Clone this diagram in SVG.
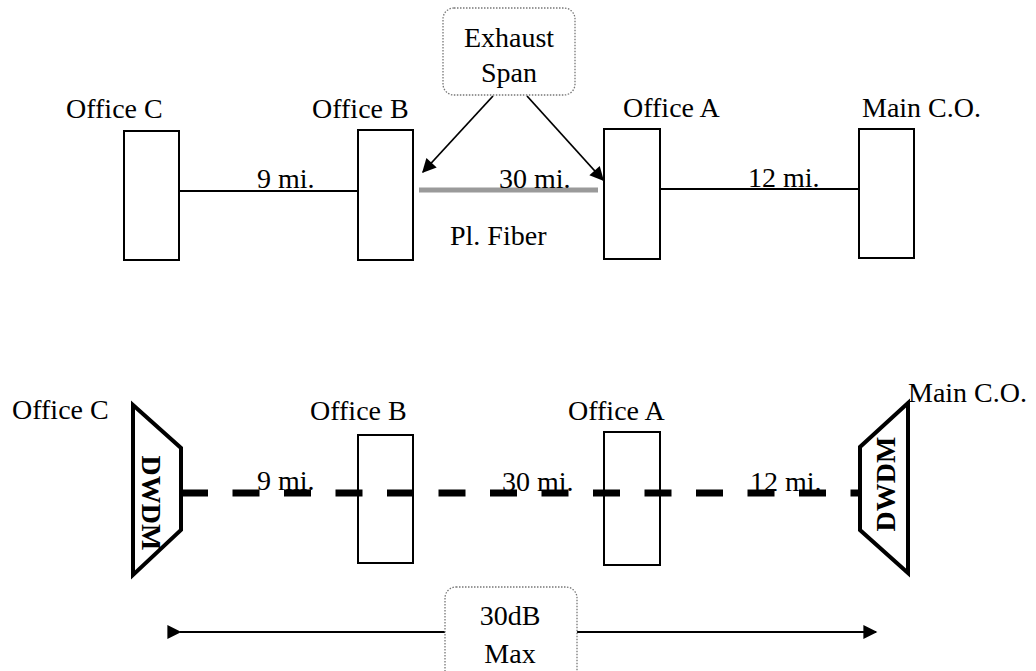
<svg xmlns="http://www.w3.org/2000/svg" width="1036" height="671" viewBox="0 0 1036 671">
<style>
text{font-family:"Liberation Serif","Times New Roman",serif;font-size:28px;fill:#000}
.box{fill:#fff;stroke:#000;stroke-width:2}
.ln{stroke:#000;stroke-width:1.8;fill:none}
.call{fill:#fff;stroke:#777;stroke-width:1.3;stroke-dasharray:1.5 1.5}
.dw{fill:#fff;stroke:#000;stroke-width:4;stroke-linejoin:miter}
.dwt{font-weight:bold;font-size:28px}
</style>
<defs>
<marker id="ah" viewBox="0 0 10 10" refX="9" refY="5" markerWidth="19" markerHeight="14" markerUnits="userSpaceOnUse" orient="auto">
<path d="M0,0 L10,5 L0,10 z" fill="#000"/>
</marker>
</defs>
<rect width="1036" height="671" fill="#fff"/>

<g id="connectors">
<line class="ln" x1="179" y1="191" x2="358" y2="191"/>
<line class="ln" x1="660" y1="189" x2="859" y2="189"/>
<rect x="419" y="187.5" width="179" height="5" fill="#9a9a9a"/>
<line class="ln" x1="493" y1="96" x2="423" y2="172" marker-end="url(#ah)"/>
<line class="ln" x1="527" y1="96" x2="603" y2="180" marker-end="url(#ah)"/>
<line x1="181" y1="493" x2="860" y2="493" stroke="#000" stroke-width="7" stroke-dasharray="27 24.5"/>
<line class="ln" x1="180" y1="632" x2="876" y2="632" stroke-width="2.5" marker-start="url(#ah)" marker-end="url(#ah)"/>
</g>

<g id="top-officeC">
<rect class="box" x="124" y="131" width="55" height="129"/>
<text x="66" y="118">Office C</text>
</g>
<g id="top-officeB">
<rect class="box" x="358" y="130" width="55" height="130"/>
<text x="312" y="118">Office B</text>
</g>
<g id="top-officeA">
<rect class="box" x="604" y="129" width="56" height="130"/>
<text x="623" y="117">Office A</text>
</g>
<g id="top-mainCO">
<rect class="box" x="859" y="129" width="55" height="129"/>
<text x="862" y="117">Main C.O.</text>
</g>
<g id="top-labels">
<text x="257" y="188">9 mi.</text>
<text x="499" y="188">30 mi.</text>
<text x="748" y="187">12 mi.</text>
<text x="450" y="245">Pl. Fiber</text>
</g>
<g id="exhaust-span">
<rect class="call" x="443" y="8" width="132" height="87" rx="11"/>
<text x="509" y="47" text-anchor="middle">Exhaust</text>
<text x="509" y="82" text-anchor="middle">Span</text>
</g>

<g id="bot-officeC">
<path class="dw" d="M133,405 L181,448 L181,530 L133,575 Z"/>
<text class="dwt" transform="translate(142,503) rotate(90)" text-anchor="middle">DWDM</text>
<text x="12" y="419">Office C</text>
</g>
<g id="bot-officeB">
<rect x="358" y="435" width="55" height="128" fill="none" stroke="#000" stroke-width="2"/>
<text x="310" y="420">Office B</text>
</g>
<g id="bot-officeA">
<rect x="604" y="432" width="56" height="133" fill="none" stroke="#000" stroke-width="2"/>
<text x="568" y="420">Office A</text>
</g>
<g id="bot-mainCO">
<path class="dw" d="M908,403 L860,447 L860,530 L908,573 Z"/>
<text class="dwt" transform="translate(895,484) rotate(-90)" text-anchor="middle">DWDM</text>
<text x="908" y="402">Main C.O.</text>
</g>
<g id="bot-labels">
<text x="257" y="490">9 mi.</text>
<text x="502" y="491">30 mi.</text>
<text x="750" y="491">12 mi.</text>
</g>
<g id="budget">
<rect class="call" x="445" y="587" width="132" height="100" rx="11"/>
<text x="510" y="625" text-anchor="middle">30dB</text>
<text x="510" y="663" text-anchor="middle">Max</text>
</g>
</svg>
